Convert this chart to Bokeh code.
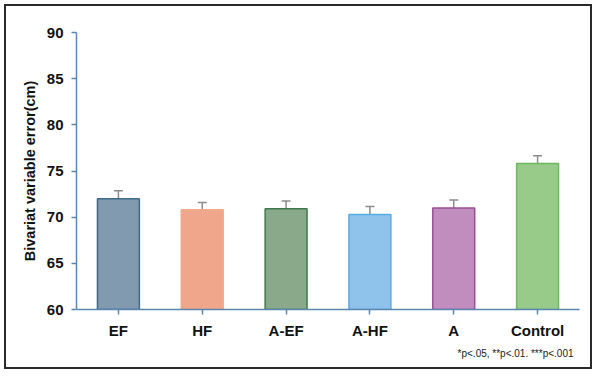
from bokeh.plotting import figure
from bokeh.models import ColumnDataSource, Whisker, TeeHead, Title, InlineStyleSheet, FixedTicker
from bokeh.embed import file_html
from bokeh.resources import INLINE

groups = ["EF", "HF", "A-EF", "A-HF", "A", "Control"]
means = [72.0, 70.8, 70.9, 70.3, 71.0, 75.8]
errors = [0.85, 0.8, 0.85, 0.85, 0.85, 0.85]
fill_colors = ["#819ab0", "#efa68a", "#8aa98a", "#8fc3ec", "#c18dbf", "#98ca8a"]
line_colors = ["#3e6a8a", "#f3a98a", "#3f7a4c", "#5aaae2", "#9b4c9a", "#6cb85c"]
y_ticks = [60, 65, 70, 75, 80, 85, 90]
footnote = "*p<.05, **p<.01. ***p<.001"

src = ColumnDataSource(dict(
    g=groups, m=means,
    lo=[m - e for m, e in zip(means, errors)],
    hi=[m + e for m, e in zip(means, errors)],
    fc=fill_colors, lc=line_colors,
))

p = figure(x_range=groups, y_range=(60, 90), width=588, height=365,
           output_backend="svg", toolbar_location=None,
           min_border_left=70, min_border_right=15, min_border_top=26, min_border_bottom=62)
p.stylesheets = [InlineStyleSheet(css=":host { border: 2px solid #2a2a2a; margin: 4px 0 0 4px; }")]
p.outline_line_color = None
p.grid.grid_line_color = None

p.vbar(x="g", top="m", bottom=60, width=0.5, source=src,
       fill_color="fc", line_color="lc", line_width=1.5)

w = Whisker(base="g", lower="lo", upper="hi", source=src,
            line_color="#8c8c8c", line_width=1.5,
            upper_head=TeeHead(size=9, line_color="#8c8c8c", line_width=1.5),
            lower_head=TeeHead(size=9, line_color="#8c8c8c", line_width=1.5))
p.add_layout(w)

axis_col = "#5a86b0"
for ax in (p.xaxis[0], p.yaxis[0]):
    ax.axis_line_color = axis_col
    ax.axis_line_width = 1.5
    ax.major_tick_line_color = axis_col
    ax.major_tick_line_width = 1.5
    ax.major_tick_out = 5
    ax.major_tick_in = 0
    ax.minor_tick_line_color = None
    ax.major_label_text_font = "Liberation Sans"
    ax.major_label_text_font_style = "bold"
    ax.major_label_text_font_size = "15px"
    ax.major_label_text_color = "#111111"

p.yaxis.ticker = FixedTicker(ticks=y_ticks)
p.yaxis.major_label_standoff = 8
p.xaxis.major_label_standoff = 7
p.yaxis.axis_label = "Bivariat variable error(cm)"
p.yaxis.axis_label_text_font = "Liberation Sans"
p.yaxis.axis_label_text_font_style = "bold"
p.yaxis.axis_label_text_font_size = "14.5px"
p.yaxis.axis_label_text_color = "#111111"
p.yaxis.axis_label_standoff = 6

foot = Title(text=footnote, align="right", offset=6,
             text_font="Liberation Sans", text_font_style="normal",
             text_font_size="10px", text_color="#222222", standoff=8)
p.add_layout(foot, "below")

open("out.html", "w").write(file_html(p, INLINE))
